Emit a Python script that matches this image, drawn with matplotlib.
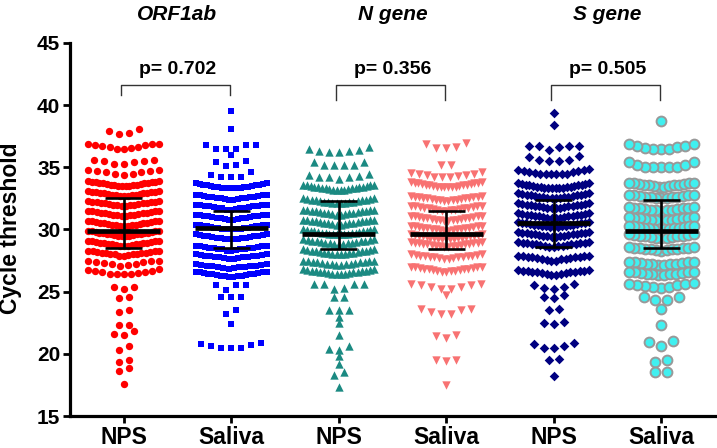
import numpy as np
import matplotlib
matplotlib.use("Agg")
import matplotlib.pyplot as plt

plt.rcParams['font.family'] = ['Liberation Sans', 'DejaVu Sans']

# Ct values per group (rows of the swarm)
orf_nps = [
    38.1, 37.9, 37.8, 37.7,
    36.9, 36.9, 36.85, 36.8, 36.7, 36.6, 36.55, 36.5, 36.5, 36.6, 36.8,
    35.6, 35.6, 35.5, 35.4, 35.3, 35.25, 35.5,
    34.8, 34.8, 34.7, 34.6, 34.5, 34.45, 34.4, 34.6, 34.7,
    33.9, 33.9, 33.85, 33.85, 33.8, 33.8, 33.75, 33.75, 33.7, 33.7,
    33.65, 33.65, 33.6, 33.6, 33.55, 33.55, 33.5, 33.5, 33.5, 33.5,
    33.1, 33.1, 33.05, 33.05, 33.0, 33.0, 32.95, 32.95, 32.9, 32.9,
    32.85, 32.85, 32.8, 32.8, 32.75, 32.75, 32.7, 32.7, 32.7,
    32.3, 32.3, 32.25, 32.25, 32.2, 32.2, 32.15, 32.15, 32.1, 32.1,
    32.05, 32.05, 32.0, 32.0, 31.95, 31.95, 31.9, 31.9,
    31.5, 31.5, 31.45, 31.45, 31.4, 31.4, 31.35, 31.35, 31.3, 31.3,
    31.25, 31.25, 31.2, 31.2, 31.15, 31.15, 31.1, 31.1,
    30.7, 30.7, 30.65, 30.65, 30.6, 30.6, 30.55, 30.55, 30.5, 30.5,
    30.45, 30.45, 30.4, 30.4, 30.35, 30.35, 30.3, 30.3, 30.3,
    29.9, 29.9, 29.85, 29.85, 29.8, 29.8, 29.75, 29.75, 29.7, 29.7,
    29.65, 29.65, 29.6, 29.6, 29.55, 29.55, 29.5, 29.5, 29.5, 29.5,
    29.1, 29.1, 29.05, 29.05, 29.0, 29.0, 28.95, 28.95, 28.9, 28.9,
    28.85, 28.85, 28.8, 28.8, 28.75, 28.75, 28.7, 28.7, 28.7,
    28.3, 28.3, 28.25, 28.25, 28.2, 28.2, 28.15, 28.15, 28.1, 28.1,
    28.05, 28.05, 28.0, 28.0, 27.95, 27.9, 27.9,
    27.5, 27.5, 27.45, 27.4, 27.35, 27.3, 27.25, 27.2, 27.15, 27.1,
    26.8, 26.75, 26.7, 26.65, 26.6, 26.55, 26.5, 26.45, 26.4, 26.4, 26.4,
    25.4, 25.4, 25.25, 24.55, 24.5, 23.5, 23.35, 22.3, 22.3,
    21.8, 21.6, 21.55, 20.6, 20.3, 19.5, 19.35, 18.9, 18.6, 17.6,
]
orf_sal = [
    39.5, 38.1,
    36.8, 36.8, 36.8, 36.5, 36.5, 36.5,
    36.0,
    35.5, 35.45, 35.15, 35.1,
    34.6, 34.4, 34.25, 34.25, 34.2,
    33.7, 33.7, 33.65, 33.65, 33.6, 33.6, 33.55, 33.55, 33.5, 33.5,
    33.45, 33.45, 33.4, 33.4, 33.35, 33.35, 33.3, 33.3, 33.3, 33.3,
    32.8, 32.8, 32.75, 32.75, 32.7, 32.7, 32.65, 32.65, 32.6, 32.6,
    32.55, 32.55, 32.5, 32.5, 32.45, 32.45, 32.4, 32.4,
    32.0, 32.0, 31.95, 31.95, 31.9, 31.9, 31.85, 31.85, 31.8, 31.8,
    31.75, 31.75, 31.7, 31.7, 31.65, 31.6, 31.6,
    31.2, 31.2, 31.15, 31.15, 31.1, 31.1, 31.05, 31.05, 31.0, 31.0,
    30.95, 30.95, 30.9, 30.9, 30.85, 30.85, 30.8, 30.8,
    30.4, 30.4, 30.35, 30.35, 30.3, 30.3, 30.25, 30.25, 30.2, 30.2,
    30.15, 30.15, 30.1, 30.1, 30.05, 30.05, 30.0, 30.0, 30.0, 30.0,
    29.6, 29.6, 29.55, 29.55, 29.5, 29.5, 29.45, 29.45, 29.4, 29.4,
    29.35, 29.35, 29.3, 29.3, 29.25, 29.25, 29.2, 29.2,
    28.7, 28.7, 28.65, 28.65, 28.6, 28.6, 28.55, 28.55, 28.5, 28.5,
    28.45, 28.45, 28.4, 28.4, 28.35, 28.3, 28.3,
    28.0, 28.0, 27.95, 27.95, 27.9, 27.9, 27.85, 27.85, 27.8, 27.8,
    27.75, 27.75, 27.7, 27.7, 27.65, 27.65,
    27.2, 27.2, 27.15, 27.15, 27.1, 27.1, 27.05, 27.05, 27.0, 27.0,
    26.95, 26.9, 26.9, 26.85,
    26.6, 26.6, 26.55, 26.55, 26.5, 26.5, 26.45, 26.45, 26.4, 26.4,
    26.35, 26.35, 26.3, 26.3, 26.25, 26.25, 26.2, 26.2,
    25.55, 25.55, 25.55, 25.15, 24.55, 24.55, 24.55, 23.5, 23.2, 22.4,
    20.85, 20.8, 20.7, 20.6, 20.5, 20.45, 20.45,
]
n_nps = [
    36.6, 36.5, 36.4, 36.35, 36.3, 36.2, 36.2,
    35.4, 35.4, 35.2, 35.2, 35.2, 35.2,
    34.45, 34.4, 34.3, 34.2, 34.2, 34.2, 34.05,
    33.6, 33.6, 33.55, 33.55, 33.5, 33.5, 33.45, 33.45, 33.4, 33.4,
    33.35, 33.35, 33.3, 33.3, 33.25, 33.25, 33.2, 33.2, 33.2, 33.2,
    32.5, 32.5, 32.45, 32.45, 32.4, 32.4, 32.35, 32.35, 32.3, 32.3,
    32.25, 32.25, 32.2, 32.2, 32.15, 32.15, 32.1, 32.1,
    31.6, 31.6, 31.55, 31.55, 31.5, 31.5, 31.45, 31.45, 31.4, 31.4,
    31.35, 31.35, 31.3, 31.3, 31.25, 31.25, 31.2, 31.2,
    30.8, 30.8, 30.75, 30.75, 30.7, 30.7, 30.65, 30.65, 30.6, 30.6,
    30.55, 30.55, 30.5, 30.5, 30.45, 30.45, 30.4, 30.4,
    30.0, 30.0, 29.95, 29.95, 29.9, 29.9, 29.85, 29.85, 29.8, 29.8,
    29.75, 29.75, 29.7, 29.7, 29.65, 29.65, 29.6, 29.6, 29.6, 29.6,
    29.2, 29.2, 29.15, 29.15, 29.1, 29.1, 29.05, 29.05, 29.0, 29.0,
    28.95, 28.95, 28.9, 28.9, 28.85, 28.8, 28.8,
    28.4, 28.4, 28.35, 28.35, 28.3, 28.3, 28.25, 28.25, 28.2, 28.2,
    28.15, 28.15, 28.1, 28.1, 28.05, 28.05, 28.0, 28.0,
    27.5, 27.5, 27.45, 27.45, 27.4, 27.4, 27.35, 27.35, 27.3, 27.3,
    27.25, 27.25, 27.2, 27.2, 27.15, 27.15,
    26.8, 26.8, 26.75, 26.75, 26.7, 26.7, 26.65, 26.65, 26.6, 26.6,
    26.55, 26.55, 26.5, 26.5, 26.45, 26.45, 26.4, 26.4,
    25.6, 25.6, 25.6, 25.6, 25.3, 25.2, 24.55, 24.55, 23.55, 23.5, 23.5, 23.0, 22.45,
    21.5, 20.6, 20.35, 20.3, 19.8, 19.2, 18.55, 18.3, 17.35,
]
n_sal = [
    36.95, 36.85, 36.6, 36.55, 36.55,
    35.15, 35.15,
    34.6, 34.55, 34.5, 34.45, 34.4, 34.35, 34.3, 34.25, 34.2, 34.2,
    33.8, 33.8, 33.75, 33.75, 33.7, 33.7, 33.65, 33.65, 33.6, 33.6,
    33.55, 33.55, 33.5, 33.5, 33.45, 33.45, 33.4, 33.4, 33.4, 33.4,
    32.7, 32.7, 32.65, 32.65, 32.6, 32.6, 32.55, 32.55, 32.5, 32.5,
    32.45, 32.45, 32.4, 32.4, 32.35, 32.35, 32.3, 32.3,
    31.9, 31.9, 31.85, 31.85, 31.8, 31.8, 31.75, 31.75, 31.7, 31.7,
    31.65, 31.65, 31.6, 31.6, 31.55, 31.5, 31.5,
    31.1, 31.1, 31.05, 31.05, 31.0, 31.0, 30.95, 30.95, 30.9, 30.9,
    30.85, 30.85, 30.8, 30.8, 30.75, 30.75, 30.7, 30.7,
    30.3, 30.3, 30.25, 30.25, 30.2, 30.2, 30.15, 30.15, 30.1, 30.1,
    30.05, 30.05, 30.0, 30.0, 29.95, 29.95, 29.9, 29.9,
    29.6, 29.6, 29.55, 29.55, 29.5, 29.5, 29.45, 29.45, 29.4, 29.4,
    29.35, 29.35, 29.3, 29.3, 29.25, 29.25, 29.2, 29.2, 29.2,
    29.0, 29.0, 28.95, 28.95, 28.9, 28.9, 28.85, 28.85, 28.8, 28.8,
    28.75, 28.75, 28.7, 28.7, 28.65, 28.65, 28.6, 28.6,
    28.0, 28.0, 27.95, 27.95, 27.9, 27.9, 27.85, 27.85, 27.8, 27.8,
    27.75, 27.75, 27.7, 27.7, 27.65, 27.65,
    27.0, 27.0, 26.95, 26.95, 26.9, 26.9, 26.85, 26.85, 26.8, 26.8,
    26.75, 26.75, 26.7, 26.7, 26.65, 26.6, 26.6,
    25.6, 25.6, 25.5, 25.5, 25.4, 25.4, 25.2, 25.2, 24.7,
    23.6, 23.6, 23.5, 23.4, 23.2, 23.2,
    21.5, 21.45, 21.3, 19.5, 19.5, 19.4, 17.5,
]
s_nps = [
    39.4, 38.4,
    36.75, 36.75, 36.75, 36.75, 36.6, 36.4,
    35.9, 35.85, 35.6, 35.6, 35.5, 35.5,
    34.85, 34.8, 34.75, 34.7, 34.7, 34.65, 34.6, 34.55, 34.5, 34.5, 34.45, 34.45, 34.45, 34.45,
    33.7, 33.7, 33.65, 33.65, 33.6, 33.6, 33.55, 33.55, 33.5, 33.5,
    33.45, 33.45, 33.4, 33.4, 33.35, 33.35, 33.3, 33.3, 33.3, 33.3,
    32.9, 32.9, 32.85, 32.85, 32.8, 32.8, 32.75, 32.75, 32.7, 32.7,
    32.65, 32.65, 32.6, 32.6, 32.55, 32.55, 32.5, 32.5,
    32.1, 32.1, 32.05, 32.05, 32.0, 32.0, 31.95, 31.95, 31.9, 31.9,
    31.85, 31.85, 31.8, 31.8, 31.75, 31.75, 31.7, 31.7,
    31.3, 31.3, 31.25, 31.25, 31.2, 31.2, 31.15, 31.15, 31.1, 31.1,
    31.05, 31.05, 31.0, 31.0, 30.95, 30.95, 30.9, 30.9,
    30.6, 30.6, 30.55, 30.55, 30.5, 30.5, 30.45, 30.45, 30.4, 30.4,
    30.35, 30.35, 30.3, 30.3, 30.25, 30.25, 30.2, 30.2, 30.2,
    29.8, 29.8, 29.75, 29.75, 29.7, 29.7, 29.65, 29.65, 29.6, 29.6,
    29.55, 29.55, 29.5, 29.5, 29.45, 29.45, 29.4, 29.4,
    29.0, 29.0, 28.95, 28.95, 28.9, 28.9, 28.85, 28.85, 28.8, 28.8,
    28.75, 28.75, 28.7, 28.7, 28.65, 28.6, 28.6,
    27.9, 27.9, 27.85, 27.85, 27.8, 27.8, 27.75, 27.75, 27.7, 27.7,
    27.65, 27.65, 27.6, 27.55, 27.5, 27.5,
    26.75, 26.75, 26.7, 26.7, 26.65, 26.65, 26.6, 26.6, 26.55, 26.55,
    26.5, 26.5, 26.45, 26.4, 26.35, 26.35,
    25.6, 25.55, 25.35, 25.3, 25.2, 24.7, 24.6, 24.5, 23.6, 23.5, 22.6, 22.5, 22.4,
    20.85, 20.8, 20.6, 20.45, 20.45, 19.6, 19.5, 18.25,
]
s_sal = [
    38.7,
    36.9, 36.9, 36.75, 36.7, 36.6, 36.55, 36.5, 36.5, 36.5,
    35.4, 35.4, 35.2, 35.15, 35.05, 35.0, 35.0, 35.0, 35.0,
    33.75, 33.75, 33.7, 33.7, 33.65, 33.65, 33.6, 33.6, 33.55, 33.55, 33.5, 33.5, 33.45, 33.45,
    32.8, 32.8, 32.75, 32.75, 32.7, 32.7, 32.65, 32.65, 32.6, 32.6, 32.55, 32.55, 32.5,
    31.8, 31.8, 31.75, 31.75, 31.7, 31.7, 31.65, 31.65, 31.6, 31.6, 31.55, 31.55, 31.5,
    31.0, 31.0, 30.95, 30.95, 30.9, 30.9, 30.85, 30.85, 30.8, 30.8, 30.75, 30.75, 30.7,
    30.3, 30.3, 30.25, 30.25, 30.2, 30.2, 30.15, 30.15, 30.1, 30.1, 30.05, 30.05, 30.0, 30.0,
    29.6, 29.6, 29.55, 29.55, 29.5, 29.5, 29.45, 29.45, 29.4, 29.4, 29.35, 29.35, 29.3,
    28.6, 28.6, 28.55, 28.55, 28.5, 28.5, 28.45, 28.45, 28.4, 28.4, 28.35, 28.35, 28.3,
    27.4, 27.4, 27.35, 27.35, 27.3, 27.3, 27.25, 27.25, 27.2, 27.2, 27.15, 27.15,
    26.6, 26.6, 26.55, 26.55, 26.5, 26.5, 26.45, 26.45, 26.4, 26.4, 26.35, 26.35,
    25.7, 25.65, 25.6, 25.55, 25.5, 25.45, 25.4, 25.35, 25.3,
    24.6, 24.6, 24.3, 24.3, 23.6, 22.3, 21.0, 20.95, 20.6,
    19.5, 19.35, 18.55, 18.5,
]

groups = [orf_nps, orf_sal, n_nps, n_sal, s_nps, s_sal]
xlabels = ['NPS', 'Saliva', 'NPS', 'Saliva', 'NPS', 'Saliva']
medians = [29.9, 30.15, 29.6, 29.6, 30.5, 29.9]
q1 = [28.5, 28.5, 28.4, 28.4, 28.6, 28.5]
q3 = [32.5, 31.5, 32.3, 31.5, 32.4, 32.4]
genes = ['ORF1ab', 'N gene', 'S gene']
pvals = ['p= 0.702', 'p= 0.356', 'p= 0.505']

markers = ['o', 's', '^', 'v', 'D', 'o']
colors = ['#FF0000', '#0000FF', '#1B8A82', '#F87272', '#000080', '#40F0F0']
sizes = [28, 24, 36, 36, 24, 50]


def swarm_x(vals, center, binh=0.45, sp=0.093, hw=0.33):
    vals = np.sort(np.asarray(vals))[::-1]
    xs, ys = [], []
    i = 0
    while i < len(vals):
        j = i
        while j < len(vals) and vals[j] > vals[i] - binh:
            j += 1
        b = np.sort(vals[i:j])
        n = len(b)
        step = sp if n < 2 else min(sp, 2 * hw / (n - 1))
        pos = (np.arange(n) - (n - 1) / 2) * step
        order = np.argsort(np.abs(pos), kind='stable')
        xs.extend(center + pos[order])
        ys.extend(b)
        i = j
    return np.array(xs), np.array(ys)


fig = plt.figure(figsize=(7.17, 4.48), dpi=100)
ax = fig.add_axes([70 / 717, 32 / 448, 645 / 717, 373 / 448])

for k, vals in enumerate(groups):
    hw = 0.30 if k == 5 else 0.33
    sp = 0.11 if k == 5 else 0.093
    x, y = swarm_x(vals, k, sp=sp, hw=hw)
    if k == 5:
        ax.scatter(x, y, s=sizes[k], marker=markers[k], c=colors[k],
                   edgecolors='#999999', linewidths=1.4, zorder=2)
    else:
        ax.scatter(x, y, s=sizes[k], marker=markers[k], c=colors[k],
                   linewidths=0, zorder=2)
    ax.hlines(medians[k], k - 0.34, k + 0.34, color='black', lw=3.4, zorder=4)
    ax.vlines(k, q1[k], q3[k], color='black', lw=1.9, zorder=4)
    ax.hlines([q1[k], q3[k]], k - 0.17, k + 0.17, color='black', lw=1.9, zorder=4)

# brackets, p values and gene names
for g in range(3):
    x0, x1 = 2 * g - 0.03, 2 * g + 1 - 0.01
    low = 40.8 if g == 0 else 40.4
    top = 41.6
    ax.plot([x0, x0, x1, x1], [low, top, top, low], color='#333333', lw=1.0,
            clip_on=False, zorder=3)
    ax.text(2 * g + 0.5, 42.9, pvals[g], ha='center', va='center',
            fontsize=14, fontweight='bold')
    ax.text(2 * g + 0.5, 47.3, genes[g], ha='center', va='center',
            fontsize=15, fontweight='bold', style='italic', clip_on=False)

ax.set_xlim(-0.5, 5.5)
ax.set_ylim(15, 45)
ax.set_yticks([15, 20, 25, 30, 35, 40, 45])
ax.set_xticks(range(6))
ax.set_xticklabels(xlabels, fontsize=16.5, fontweight='bold')
for t in ax.get_yticklabels():
    t.set_fontweight('bold')
    t.set_fontsize(15)
ax.spines['top'].set_visible(False)
ax.spines['right'].set_visible(False)
ax.spines['left'].set_linewidth(2.3)
ax.spines['bottom'].set_linewidth(2.3)
ax.tick_params(axis='both', length=5, width=2, pad=2)
fig.text(11 / 717, 1 - 228 / 448, 'Cycle threshold', rotation=90, ha='center',
         va='center', fontsize=16.5, fontweight='bold')

fig.savefig('out.png', dpi=100)
